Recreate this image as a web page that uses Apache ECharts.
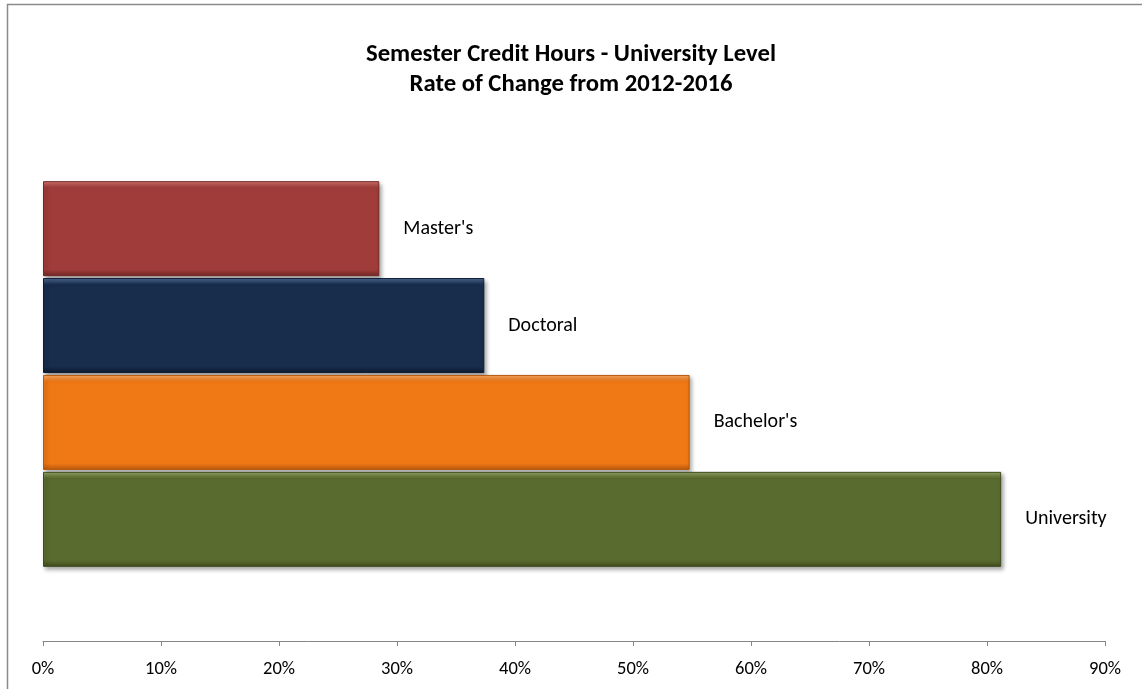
<!DOCTYPE html>
<html>
<head>
<meta charset="utf-8">
<script src="https://cdn.jsdelivr.net/npm/echarts@6/dist/echarts.min.js"></script>
<style>
html,body{margin:0;padding:0;background:#fff;}
#chart{width:1142px;height:689px;}
</style>
</head>
<body>
<div id="chart"></div>
<script>
// Data (top to bottom, as drawn)
const seriesNames = ["Master's", "Doctoral", "Bachelor's", "University"];
const seriesValues = [28.5, 37.4, 54.8, 81.2];
const tickLabels = ["0%", "10%", "20%", "30%", "40%", "50%", "60%", "70%", "80%", "90%"];
const titleLines = ["Semester Credit Hours - University Level", "Rate of Change from 2012-2016"];

const palette = {
  "University": {base: "#5A6B2F", light: "#93A663", dark: "#3F4C1E"},
  "Bachelor's": {base: "#F07815", light: "#F9A864", dark: "#B8580C"},
  "Doctoral": {base: "#182C4C", light: "#4D6C96", dark: "#0E1B30"},
  "Master's": {base: "#A03C3A", light: "#D4716D", dark: "#742826"}
};

const FONT = "Carlito, Calibri, Lato, sans-serif";

function barStyle(name) {
  const p = palette[name];
  return {
    color: new echarts.graphic.LinearGradient(0, 0, 0, 1, [
      {offset: 0, color: p.light},
      {offset: 0.07, color: p.base},
      {offset: 0.93, color: p.base},
      {offset: 1, color: p.dark}
    ]),
    borderColor: p.dark,
    borderWidth: 1,
    shadowColor: 'rgba(0,0,0,0.35)',
    shadowBlur: 4,
    shadowOffsetX: 2,
    shadowOffsetY: 3
  };
}

const chart = echarts.init(document.getElementById('chart'), null, {renderer: 'canvas'});

const series = seriesNames.map((name, i) => ({
  name: name,
  type: 'bar',
  data: [seriesValues[i]],
  barWidth: 95,
  barGap: '2%',
  itemStyle: barStyle(name),
  label: {
    show: true,
    position: 'right',
    distance: 24,
    formatter: name,
    color: '#000',
    fontFamily: FONT,
    fontSize: 20
  }
}));

chart.setOption({
  animation: false,
  backgroundColor: '#fff',
  title: {
    text: titleLines.join('\n'),
    left: 'center',
    top: 35,
    textStyle: {
      fontFamily: FONT,
      fontWeight: 'bold',
      fontSize: 24.7,
      lineHeight: 30,
      color: '#000'
    }
  },
  grid: {left: 43, right: 37, top: 107, bottom: 48, containLabel: false},
  xAxis: {
    type: 'value',
    min: 0,
    max: 90,
    interval: 10,
    splitLine: {show: false},
    axisLine: {show: true, lineStyle: {color: '#868686', width: 1}},
    axisTick: {show: true, length: 5, lineStyle: {color: '#868686'}},
    axisLabel: {
      margin: 19,
      color: '#000',
      fontFamily: FONT,
      fontSize: 18.5,
      formatter: (v) => tickLabels[Math.round(v / 10)]
    }
  },
  yAxis: {
    type: 'category',
    data: [''],
    axisLine: {show: false},
    axisTick: {show: false},
    axisLabel: {show: false},
    splitLine: {show: false}
  },
  series: series,
  graphic: [{
    type: 'rect',
    shape: {x: 7.5, y: 4.5, width: 1200, height: 800},
    style: {fill: 'none', stroke: '#8a8a8a', lineWidth: 1.5},
    silent: true
  }]
});
</script>
</body>
</html>
